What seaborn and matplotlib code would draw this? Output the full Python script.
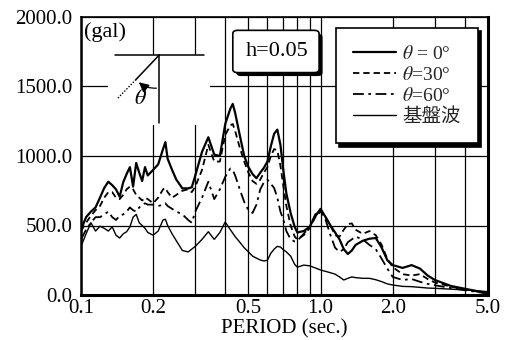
import matplotlib
matplotlib.use("Agg")
import matplotlib.pyplot as plt
import matplotlib.patheffects as pe
from matplotlib.patches import Rectangle, FancyBboxPatch
import seaborn as sns
import pandas as pd

# ---- data ----
period = [0.100, 0.105, 0.110, 0.115, 0.120, 0.125, 0.130, 0.135, 0.140, 0.145,
          0.150, 0.155, 0.160, 0.165, 0.170, 0.175, 0.180, 0.185, 0.190, 0.200,
          0.210, 0.220, 0.225, 0.230, 0.240, 0.250, 0.265, 0.280, 0.290, 0.300,
          0.320, 0.340, 0.360, 0.380, 0.400, 0.420, 0.430, 0.440, 0.460, 0.480,
          0.500, 0.520, 0.540, 0.560, 0.580, 0.600, 0.620, 0.640, 0.660, 0.680,
          0.700, 0.720, 0.750, 0.780, 0.800, 0.850, 0.900, 0.950, 1.000, 1.050,
          1.100, 1.150, 1.200, 1.250, 1.300, 1.350, 1.400, 1.500, 1.600, 1.700,
          1.800, 1.900, 2.000, 2.200, 2.400, 2.600, 2.800, 3.000, 3.500, 4.000,
          4.500, 5.000]

theta0 = [470, 560, 600, 630, 700, 770, 815, 790, 760, 707,
          810, 870, 920, 780, 950, 880, 820, 920, 860, 900,
          940, 1050, 1100, 980, 900, 830, 767, 767, 775, 860,
          1030, 1135, 1010, 1000, 1230, 1340, 1375, 1310, 1150, 1000,
          920, 870, 840, 880, 915, 960, 1070, 1160, 1190, 1080,
          890, 730, 590, 490, 450, 460, 490, 565, 620, 560,
          500, 450, 400, 330, 295, 320, 360, 390, 405, 410,
          340, 250, 215, 195, 215, 190, 140, 108, 65, 45,
          28, 15]

theta30 = [460, 520, 570, 610, 640, 700, 740, 740, 700, 690,
           720, 760, 780, 760, 720, 700, 680, 700, 690, 660,
           700, 760, 770, 740, 700, 720, 750, 760, 740, 780,
           900, 1080, 960, 960, 1150, 1220, 1230, 1180, 1060, 960,
           880, 820, 800, 830, 880, 920, 1000, 1050, 1040, 930,
           780, 640, 500, 420, 400, 430, 480, 560, 600, 560,
           500, 430, 420, 470, 510, 515, 470, 440, 460, 430,
           360, 260, 200, 150, 140, 150, 115, 90, 60, 40,
           25, 12]

theta60 = [400, 470, 520, 560, 560, 580, 600, 560, 540, 570,
           580, 600, 630, 610, 600, 630, 650, 660, 650, 650,
           640, 650, 660, 640, 620, 600, 580, 540, 520, 600,
           700, 815, 690, 760, 850, 910, 900, 860, 760, 670,
           610, 590, 650, 760, 810, 830, 800, 770, 700, 600,
           540, 460, 400, 385, 390, 440, 490, 580, 600, 540,
           430, 340, 310, 330, 380, 400, 420, 400, 360, 330,
           260, 190, 130, 108, 115, 95, 80, 70, 50, 35,
           22, 10]

base = [350, 440, 520, 460, 495, 480, 460, 490, 430, 410,
        440, 455, 490, 560, 580, 520, 500, 480, 450, 430,
        460, 540, 545, 500, 440, 390, 320, 310, 330, 350,
        400, 455, 400, 450, 525, 470, 445, 420, 380, 340,
        310, 280, 265, 252, 245, 250, 300, 330, 350, 345,
        325, 310, 280, 220, 200, 215, 210, 195, 180, 170,
        160, 150, 130, 108, 120, 130, 125, 120, 120, 110,
        96, 80, 72, 62, 60, 55, 50, 48, 42, 36,
        30, 24]

labels = [r"$\theta$ = 0°", r"$\theta$=30°", r"$\theta$=60°", "基盤波"]
xtick_vals = [0.1, 0.2, 0.5, 1.0, 2.0, 5.0]
xtick_labels = ["0.1", "0.2", "0.5", "1.0", "2.0", "5.0"]
xgrid_minor = [0.2, 0.3, 0.4, 0.5, 0.6, 0.7, 0.8, 0.9, 1.0, 2.0, 3.0, 4.0]
ytick_vals = [0, 500, 1000, 1500, 2000]
ytick_labels = ["0.0", "500.0", "1000.0", "1500.0", "2000.0"]

# ---- style ----
sns.set_theme(style="white")
plt.rcParams["font.family"] = ["Liberation Serif", "Noto Sans CJK JP", "DejaVu Sans"]
plt.rcParams["mathtext.fontset"] = "stix"

fig = plt.figure(figsize=(5.09, 3.40), dpi=100)
ax = fig.add_axes([81 / 509, 45 / 340, 407 / 509, 278 / 340])

styles = [
    dict(lw=1.6, ls="-"),
    dict(lw=1.3, ls=(0, (3.5, 2.2))),
    dict(lw=1.3, ls=(0, (6, 2.5, 1.5, 2.5))),
    dict(lw=1.0, ls="-"),
]
series = [theta0, theta30, theta60, base]
for vals, lab, st in zip(series, labels, styles):
    df = pd.DataFrame({"period": period, "acc": vals})
    sns.lineplot(data=df, x="period", y="acc", ax=ax, color="black",
                 linewidth=st["lw"], linestyle=st["ls"], label=lab,
                 estimator=None, sort=False, zorder=3)

ax.set_xscale("log")
ax.set_xlim(0.1, 5.0)
ax.set_ylim(0, 2000)
ax.set_xticks(xtick_vals)
ax.set_xticklabels(xtick_labels)
ax.set_xticks(xgrid_minor, minor=True)
ax.set_xticklabels([], minor=True)
ax.set_yticks(ytick_vals)
ax.set_yticklabels(ytick_labels)
ax.tick_params(axis="both", which="both", length=0, labelsize=15, colors="black")
ax.tick_params(axis="x", pad=3)
ax.tick_params(axis="y", pad=6)
ax.grid(True, which="both", axis="x", color="black", lw=0.9)
ax.grid(True, which="major", axis="y", color="black", lw=0.9)
ax.set_axisbelow(True)
for side, w in [("left", 1.8), ("bottom", 2.2), ("right", 2.2), ("top", 1.2)]:
    ax.spines[side].set_visible(True)
    ax.spines[side].set_color("black")
    ax.spines[side].set_linewidth(w)
ax.set_xlabel("PERIOD (sec.)", fontsize=15, labelpad=0.5, color="black")
ax.set_ylabel("")

# ---- legend ----
leg = ax.legend(loc="upper right", bbox_to_anchor=(0.975, 0.962), fontsize=14,
                handlelength=2.2, handletextpad=0.3, labelspacing=0.15,
                borderpad=0.9, borderaxespad=0, fancybox=False, frameon=True,
                framealpha=1, edgecolor="black",
                shadow={"color": "black", "alpha": 1, "ox": 2.5, "oy": -2.5})
leg.get_frame().set_linewidth(1.2)
leg.set_zorder(6)

# ---- h=0.05 box ----
hbox = FancyBboxPatch((0.373, 0.80), 0.212, 0.152, transform=ax.transAxes,
                      boxstyle="round,pad=0,rounding_size=0.012",
                      fc="white", ec="black", lw=1.2, zorder=6,
                      path_effects=[pe.withSimplePatchShadow(offset=(2.5, -2.5),
                                                             shadow_rgbFace="black", alpha=1)])
ax.add_patch(hbox)
ax.text(0.482, 0.877, "h=0.05", transform=ax.transAxes, fontsize=16,
        ha="center", va="center", zorder=7, color="black")

# ---- (gal) ----
ax.text(0.008, 0.945, "(gal)", transform=ax.transAxes, fontsize=16,
        ha="left", va="center", zorder=7, color="black")

# ---- angle diagram ----
ax.add_patch(Rectangle((0.066, 0.61), 0.251, 0.253, transform=ax.transAxes,
                       fc="white", ec="none", zorder=4))
ax.plot([0.0835, 0.302], [0.863, 0.863], transform=ax.transAxes, color="black", lw=1.1, zorder=5)
ax.plot([0.192, 0.192], [0.863, 0.619], transform=ax.transAxes, color="black", lw=1.1, zorder=5)
ax.plot([0.192, 0.135], [0.863, 0.775], transform=ax.transAxes, color="black", lw=1.1, zorder=5)
ax.plot([0.135, 0.0885], [0.775, 0.705], transform=ax.transAxes, color="black", lw=1.0,
        ls=(0, (1, 1.2)), zorder=5)
ax.annotate("", xy=(0.137, 0.772), xytext=(0.192, 0.745),
            xycoords=ax.transAxes, textcoords=ax.transAxes,
            arrowprops=dict(arrowstyle="-|>,head_length=0.5,head_width=0.25",
                            connectionstyle="arc3,rad=-0.25", color="black", lw=0.9),
            zorder=5)
ax.text(0.146, 0.705, r"$\theta$", transform=ax.transAxes, fontsize=16,
        ha="center", va="center", zorder=7, color="black")

fig.savefig("out.png", dpi=100, facecolor="white")
